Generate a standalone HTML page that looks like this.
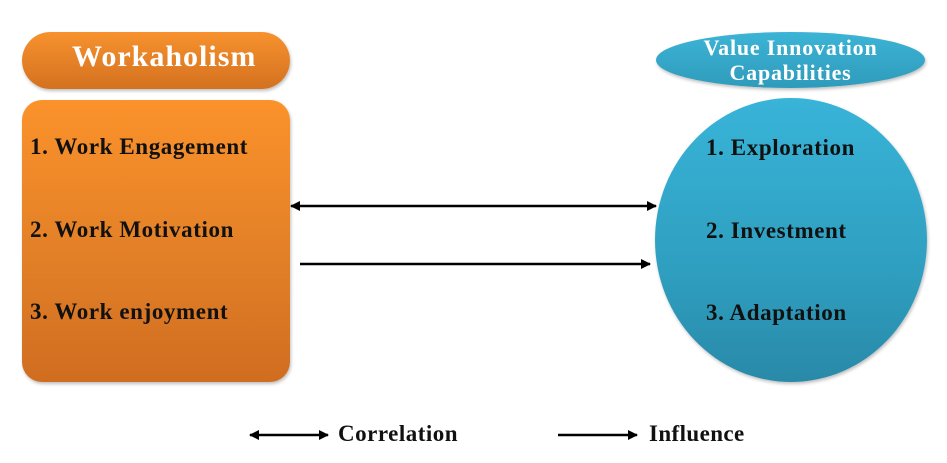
<!DOCTYPE html>
<html><head><style>
body{margin:0;width:947px;height:463px;background:#fff;overflow:hidden;position:relative;font-family:"Liberation Serif",serif;font-weight:bold}
.a{position:absolute;white-space:nowrap}
.t{font-size:23px;color:#111;letter-spacing:0.6px}
</style></head><body>
<div class="a" style="left:22px;top:32px;width:268px;height:57px;border-radius:29px;background:linear-gradient(#f7922e,#d4711f);box-shadow:1px 2px 3px rgba(0,0,0,.25)"></div>
<div class="a" style="left:72px;top:40px;color:#fff;font-size:30px;letter-spacing:1px">Workaholism</div>
<div class="a" style="left:22px;top:100px;width:268px;height:282px;border-radius:20px;background:linear-gradient(#fb922b,#e07e27 60%,#d06d20);box-shadow:1px 2px 3px rgba(0,0,0,.25)"></div>
<div class="a t" style="left:30px;top:134px">1. Work Engagement</div>
<div class="a t" style="left:30px;top:217px">2. Work Motivation</div>
<div class="a t" style="left:30px;top:299px">3. Work enjoyment</div>
<div class="a" style="left:656px;top:32px;width:269px;height:56px;border-radius:50%;background:linear-gradient(#3cb4d6,#2f9bbb);box-shadow:1px 2px 3px rgba(0,0,0,.25)"></div>
<div class="a" style="left:656px;top:35px;width:269px;text-align:center;color:#fff;font-size:22px;line-height:25px;letter-spacing:0.8px">Value Innovation<br>Capabilities</div>
<div class="a" style="left:655px;top:98px;width:272px;height:284px;border-radius:50%;background:linear-gradient(#38b4d8,#2f9fc0 60%,#2989a8);box-shadow:1px 2px 3px rgba(0,0,0,.25)"></div>
<div class="a t" style="left:706px;top:135px">1. Exploration</div>
<div class="a t" style="left:706px;top:218px">2. Investment</div>
<div class="a t" style="left:706px;top:300px">3. Adaptation</div>
<svg class="a" style="left:0;top:0" width="947" height="463">
<defs><marker id="m" markerWidth="10" markerHeight="10" refX="9" refY="5" orient="auto-start-reverse" markerUnits="userSpaceOnUse"><path d="M0,0 L10,5 L0,10 Z" fill="#000"/></marker></defs>
<g stroke="#000" stroke-width="2.5">
<line x1="291" y1="206" x2="656" y2="206" marker-start="url(#m)" marker-end="url(#m)"/>
<line x1="300" y1="264" x2="650" y2="264" marker-end="url(#m)"/>
<line x1="250" y1="435" x2="328" y2="435" marker-start="url(#m)" marker-end="url(#m)"/>
<line x1="558" y1="435" x2="637" y2="435" marker-end="url(#m)"/>
</g></svg>
<div class="a t" style="left:338px;top:421px;letter-spacing:0.5px">Correlation</div>
<div class="a t" style="left:649px;top:421px;letter-spacing:0.4px">Influence</div>
</body></html>
